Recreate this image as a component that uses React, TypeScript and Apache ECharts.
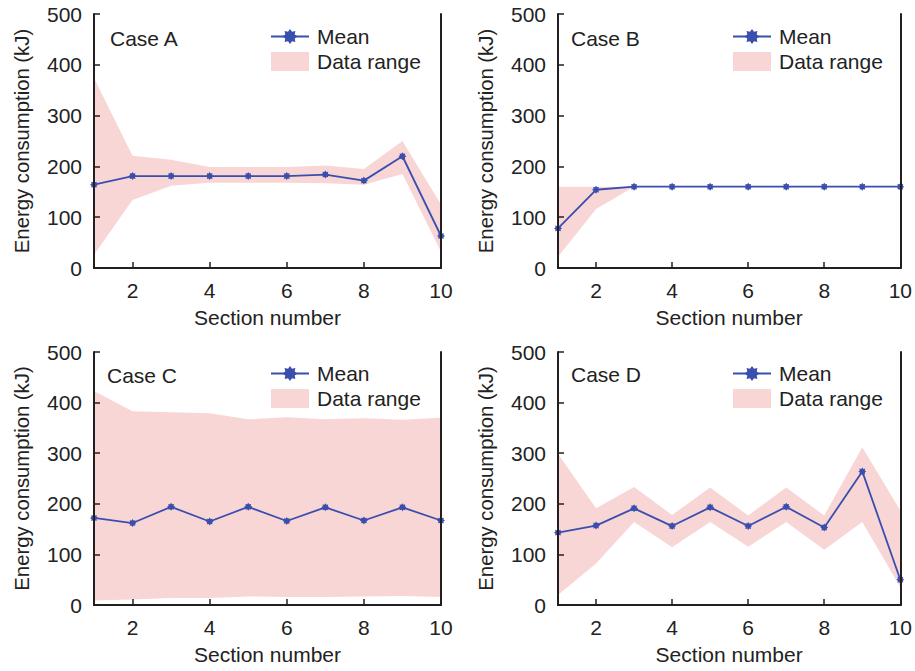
import React, { useEffect, useRef } from "react";
import * as echarts from "echarts";

const SECTIONS = ["1", "2", "3", "4", "5", "6", "7", "8", "9", "10"];
const Y_TICKS = [0, 100, 200, 300, 400, 500];

const CASE_NAMES = ["Case A", "Case B", "Case C", "Case D"];

const A_MEAN = [164, 181, 181, 181, 181, 181, 184, 172, 220, 63];
const A_UPPER = [374, 221, 213, 199, 199, 199, 202, 195, 250, 125];
const A_LOWER = [26, 134, 162, 168, 168, 168, 167, 164, 185, 32];

const B_MEAN = [78, 154, 160, 160, 160, 160, 160, 160, 160, 160];
const B_UPPER = [160, 160, 160, 160, 160, 160, 160, 160, 160, 160];
const B_LOWER = [22, 116, 160, 160, 160, 160, 160, 160, 160, 160];

const C_MEAN = [172, 162, 194, 165, 194, 166, 193, 167, 193, 167];
const C_UPPER = [423, 383, 381, 379, 367, 371, 367, 369, 366, 370];
const C_LOWER = [9, 11, 14, 14, 17, 16, 16, 17, 18, 16];

const D_MEAN = [143, 157, 191, 156, 193, 156, 194, 153, 264, 50];
const D_UPPER = [299, 191, 233, 178, 232, 177, 232, 177, 312, 187];
const D_LOWER = [20, 82, 164, 114, 164, 115, 164, 109, 164, 35];

const MEANS = [A_MEAN, B_MEAN, C_MEAN, D_MEAN];
const UPPERS = [A_UPPER, B_UPPER, C_UPPER, D_UPPER];
const LOWERS = [A_LOWER, B_LOWER, C_LOWER, D_LOWER];

const FONT = "'Liberation Sans', Arial, sans-serif";
const FS = 21;
const TEXT = "#222222";
const FRAME = "#231f20";
const BLUE = "#3a4eae";
const PINK = "#f9d6d6";
const STAR =
  "path://M0,-5 L1.3,-3.1 L3.54,-3.54 L3.1,-1.3 L5,0 L3.1,1.3 L3.54,3.54 L1.3,3.1 L0,5 L-1.3,3.1 L-3.54,3.54 L-3.1,1.3 L-5,0 L-3.1,-1.3 L-3.54,-3.54 L-1.3,-3.1 Z";

const PANELS = [
  { left: 94, top: 14, width: 347, height: 254, lgLeft: 270, lgTop: 26, tLeft: 110, tTop: 28 },
  { left: 558, top: 14, width: 345, height: 254, lgLeft: 732, lgTop: 26, tLeft: 571, tTop: 28 },
  { left: 94, top: 352, width: 347, height: 253, lgLeft: 270, lgTop: 363, tLeft: 107, tTop: 365 },
  { left: 558, top: 352, width: 345, height: 253, lgLeft: 732, lgTop: 363, tLeft: 571, tTop: 364 },
];

function buildOption() {
  const grid: any[] = [];
  const xAxis: any[] = [];
  const yAxis: any[] = [];
  const series: any[] = [];
  const legend: any[] = [];
  const title: any[] = [];
  const evenOnly = (i: number) => i % 2 === 1;

  PANELS.forEach((p, k) => {
    grid.push({ left: p.left, top: p.top, width: p.width, height: p.height, containLabel: false });
    xAxis.push({
      type: "category",
      gridIndex: k,
      data: SECTIONS,
      boundaryGap: false,
      position: "bottom",
      z: 10,
      name: "Section number",
      nameLocation: "middle",
      nameGap: 39,
      nameTextStyle: { fontSize: FS, color: TEXT, fontFamily: FONT },
      axisLine: { show: true, lineStyle: { color: FRAME, width: 2 } },
      axisTick: { show: true, inside: true, length: 6, interval: evenOnly, lineStyle: { color: FRAME, width: 1.5 } },
      axisLabel: { interval: evenOnly, margin: 12, fontSize: FS, color: TEXT, fontFamily: FONT },
      splitLine: { show: false },
    });
    xAxis.push({
      type: "category",
      gridIndex: k,
      data: SECTIONS,
      boundaryGap: false,
      position: "top",
      z: 10,
      axisLine: { show: true, lineStyle: { color: FRAME, width: 2 } },
      axisTick: { show: false },
      axisLabel: { show: false },
      splitLine: { show: false },
    });
    yAxis.push({
      type: "value",
      gridIndex: k,
      min: Y_TICKS[0],
      max: Y_TICKS[Y_TICKS.length - 1],
      interval: 100,
      position: "left",
      z: 10,
      name: "Energy consumption (kJ)",
      nameLocation: "middle",
      nameGap: 62,
      nameTextStyle: { fontSize: 20.3, color: TEXT, fontFamily: FONT },
      axisLine: { show: true, lineStyle: { color: FRAME, width: 2 } },
      axisTick: { show: true, inside: true, length: 6, lineStyle: { color: FRAME, width: 1.5 } },
      axisLabel: { margin: 12, fontSize: FS, color: TEXT, fontFamily: FONT },
      splitLine: { show: false },
    });
    yAxis.push({
      type: "value",
      gridIndex: k,
      min: Y_TICKS[0],
      max: Y_TICKS[Y_TICKS.length - 1],
      interval: 100,
      position: "right",
      z: 10,
      axisLine: { show: true, lineStyle: { color: FRAME, width: 2 } },
      axisTick: { show: false },
      axisLabel: { show: false },
      splitLine: { show: false },
    });

    const xi = k * 2;
    const yi = k * 2;
    const lower = LOWERS[k];
    const upper = UPPERS[k];
    const diff = upper.map((u, i) => u - lower[i]);

    series.push({
      name: "lower" + k,
      type: "line",
      xAxisIndex: xi,
      yAxisIndex: yi,
      data: lower,
      stack: "range" + k,
      symbol: "none",
      lineStyle: { width: 0, opacity: 0 },
      itemStyle: { color: PINK },
      z: 1,
      silent: true,
    });
    series.push({
      name: "Data range",
      type: "line",
      xAxisIndex: xi,
      yAxisIndex: yi,
      data: diff,
      stack: "range" + k,
      symbol: "none",
      lineStyle: { width: 0, opacity: 0 },
      itemStyle: { color: PINK },
      areaStyle: { color: PINK, opacity: 1 },
      z: 1,
      silent: true,
    });
    series.push({
      name: "Mean",
      type: "line",
      xAxisIndex: xi,
      yAxisIndex: yi,
      data: MEANS[k],
      symbol: STAR,
      symbolSize: 8,
      lineStyle: { color: BLUE, width: 1.8 },
      itemStyle: { color: BLUE },
      z: 5,
      clip: false,
    });

    legend.push({
      left: p.lgLeft,
      top: p.lgTop,
      orient: "vertical",
      itemWidth: 38,
      itemHeight: 19,
      itemGap: 4,
      padding: 0,
      selectedMode: false,
      textStyle: { fontSize: FS, color: TEXT, fontFamily: FONT, padding: [0, 0, 0, 3] },
      data: [
        { name: "Mean" },
        { name: "Data range", icon: "rect", itemStyle: { color: PINK, borderWidth: 0 } },
      ],
    });

    title.push({
      text: CASE_NAMES[k],
      left: p.tLeft,
      top: p.tTop,
      padding: 0,
      textStyle: { fontSize: FS, fontWeight: "normal", color: TEXT, fontFamily: FONT },
    });
  });

  return {
    animation: false,
    backgroundColor: "#ffffff",
    textStyle: { fontFamily: FONT },
    title,
    legend,
    grid,
    xAxis,
    yAxis,
    series,
  };
}

export default function App() {
  const ref = useRef<HTMLDivElement>(null);
  useEffect(() => {
    if (!ref.current) return;
    const chart = echarts.init(ref.current, undefined, { renderer: "svg" });
    chart.setOption(buildOption() as any);
    return () => chart.dispose();
  }, []);
  return (
    <div
      ref={ref}
      style={{ position: "fixed", left: 0, top: 0, width: 915, height: 671, background: "#fff" }}
    />
  );
}
